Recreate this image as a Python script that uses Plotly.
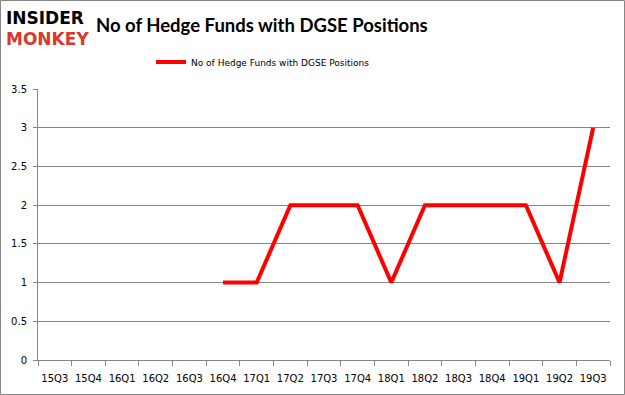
import plotly.graph_objects as go

quarters = ["15Q3", "15Q4", "16Q1", "16Q2", "16Q3", "16Q4", "17Q1", "17Q2", "17Q3",
            "17Q4", "18Q1", "18Q2", "18Q3", "18Q4", "19Q1", "19Q2", "19Q3"]
hedge_funds = [None, None, None, None, None, 1, 1, 2, 2, 2, 1, 2, 2, 2, 2, 1, 3]
series_name = "No of Hedge Funds with DGSE Positions"
y_ticks = [0, 0.5, 1, 1.5, 2, 2.5, 3, 3.5]

W, H = 625, 395
L, R, T, B = 38, 15, 89, 35
pw, ph = W - L - R, H - T - B

fig = go.Figure()
fig.add_trace(go.Scatter(
    x=quarters, y=hedge_funds, mode="lines", name=series_name,
    line=dict(color="#ff0000", width=4), connectgaps=False,
))

def px_x(x):
    return (x - L) / pw

def px_y(y):
    return (H - B - y) / ph

fig.update_layout(
    width=W, height=H,
    margin=dict(l=L, r=R, t=T, b=B, autoexpand=False),
    paper_bgcolor="white", plot_bgcolor="white",
    font=dict(family="DejaVu Sans", size=10, color="#000000"),
    showlegend=True,
    legend=dict(orientation="h", x=px_x(263), xanchor="center", y=px_y(62), yanchor="middle",
                font=dict(family="DejaVu Sans", size=9, color="#000000"),
                itemwidth=30, bgcolor="rgba(0,0,0,0)"),
    xaxis=dict(type="category", categoryorder="array", categoryarray=quarters,
               range=[-0.5, len(quarters) - 0.5], tickson="boundaries",
               ticks="outside", ticklen=5, tickcolor="#868686", tickangle=0,
               ticklabelstandoff=9,
               showline=True, linecolor="#868686", linewidth=1, automargin=False,
               showgrid=False, tickfont=dict(family="DejaVu Sans", size=10, color="#000000"),
               fixedrange=True),
    yaxis=dict(range=[0, 3.5], tickvals=y_ticks, ticktext=[f"{v:g}" for v in y_ticks],
               ticks="outside", ticklen=4, tickcolor="#868686", automargin=False,
               ticklabelstandoff=4,
               showline=True, linecolor="#868686", linewidth=1,
               showgrid=True, gridcolor="#868686", gridwidth=1, zeroline=False,
               tickfont=dict(family="DejaVu Sans", size=10, color="#000000"),
               fixedrange=True),
    annotations=[
        dict(text="<b>No of Hedge Funds with DGSE Positions</b>", xref="paper", yref="paper",
             x=px_x(262), y=px_y(25), xanchor="center", yanchor="middle", showarrow=False,
             font=dict(family="Lato", size=18.5, color="#000000")),
        dict(text="<b>INSIDER</b>", xref="paper", yref="paper",
             x=px_x(4), y=px_y(18), xanchor="left", yanchor="middle", showarrow=False,
             font=dict(family="DejaVu Sans", size=17, color="#000000")),
        dict(text="<b>MONKEY</b>", xref="paper", yref="paper",
             x=px_x(4), y=px_y(39), xanchor="left", yanchor="middle", showarrow=False,
             font=dict(family="DejaVu Sans", size=17, color="#d9382a")),
    ],
    shapes=[dict(type="rect", xref="paper", yref="paper",
                 x0=px_x(0.5), x1=px_x(W - 0.5), y0=px_y(H - 0.5), y1=px_y(0.5),
                 line=dict(color="#868686", width=1), layer="below")],
)

fig.write_html("out.html", config={"displayModeBar": False},
               post_script="document.body.style.margin='0';")
